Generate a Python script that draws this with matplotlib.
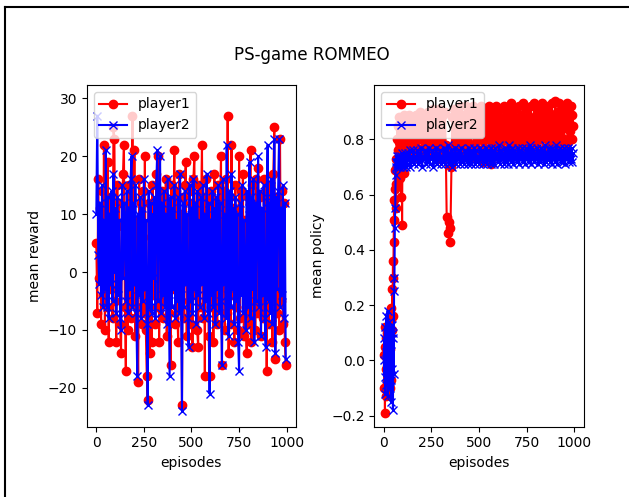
import numpy as np
import matplotlib
matplotlib.use("Agg")
import matplotlib.pyplot as plt
from matplotlib.lines import Line2D

# ---------------- data ----------------
reward_episodes = np.arange(0, 1000, 5)

reward_player1 = [
    5, -7, 16, -1, 11, -9, 14, -4, 22, -10,
    9, -6, 19, -12, 13, -3, 10, -8, 25, 23,
    -5, -12, 15, 2, 12, -9, -14, 8, 17, 22,
    -6, -17, 11, -10, 15, 0, -8, 13, 27, -4,
    21, -11, 9, -6, -19, 16, -2, 12, -9, 14,
    -7, 20, -10, -18, -22, 12, -14, 6, -12, 15,
    -4, 11, -9, 17, -6, 20, -12, 10, -3, 14,
    -8, 13, -5, 16, -11, 9, -7, 12, -16, 15,
    -3, 11, 21, -9, 14, -6, -12, 17, -2, 10,
    -23, 13, -8, 15, 19, -11, 9, -5, 14, -9,
    12, -13, 16, 20, -4, 11, -10, -13, 15, -6,
    10, 22, -8, 13, -18, 16, -3, 12, -11, -18,
    14, -6, 9, -12, 17, -5, 11, -9, 15, -2,
    12, 20, -16, 8, 14, -10, 16, -7, 27, -14,
    13, -9, 22, -4, 11, -12, 15, -6, 10, -10,
    20, -8, 14, -3, 17, -11, 9, -6, -14, 13,
    -9, 12, 21, -12, 15, -5, 11, -10, 16, -7,
    18, -4, 13, -11, 10, -8, 16, -6, 14, -17,
    12, -9, 15, -3, 11, -12, 17, 25, -15, 13,
    -7, 10, -10, 23, -5, 14, -9, 12, -12, -16,
]

reward_player2 = [
    10, 27, 3, -2, 12, -4, 15, -6, 9, -3,
    21, -6, 13, -8, 10, -2, 14, -5, 17, 0,
    11, -7, 13, -4, 9, -8, -10, 15, -1, 12,
    8, -5, 14, -7, 11, -3, 16, 20, -6, 12,
    -2, 15, -7, -18, 10, -4, 13, -8, 11, -5,
    16, -3, 9, -9, -23, 14, -6, 12, -7, 10,
    -1, 13, -8, 15, 21, -5, 11, 20, -7, 12,
    -4, 14, -6, 10, -9, 16, -2, -18, 13, -6,
    11, -3, 15, -8, 9, -5, 13, -7, 17, -4,
    -24, 12, -6, 14, -2, 10, -8, -13, 15, -5,
    11, -7, 16, -3, 12, -9, 14, -4, 9, -6,
    13, -2, 15, -8, 10, -5, 17, -7, 12, -21,
    9, -4, 14, -6, 11, -9, 13, -3, 15, -7,
    12, -5, -16, 16, -2, 10, -8, 22, -4, -11,
    14, -6, 17, -3, 11, -9, 13, -5, 10, -12,
    -17, 12, -4, 15, -7, 9, -2, -10, 14, -6,
    11, 19, -8, 13, -3, 16, -12, 12, -5, 10,
    20, -6, 14, -11, 11, -4, 15, -8, -13, 13,
    22, -5, 12, -7, 16, -9, 10, 23, -14, 13,
    -3, 14, 23, -6, 11, -4, 15, -8, 12, -15,
]

policy_episodes = np.concatenate([np.arange(0, 120, 2), np.arange(120, 1000, 5)])

policy_player1 = [
    # episodes 0..118 (step 2)
    0.02, -0.10, 0.12, -0.19, 0.05, -0.13, 0.08, -0.03, 0.10, -0.08,
    0.01, 0.06, -0.12, 0.13, -0.05, 0.09, -0.10, 0.04, 0.15, -0.07,
    0.19, 0.11, 0.26, 0.16, 0.36, 0.30, 0.43, 0.58, 0.51, 0.62,
    0.69, 0.55, 0.73, 0.64, 0.80, 0.70, 0.85, 0.76, 0.68, 0.88,
    0.79, 0.72, 0.86, 0.66, 0.82, 0.75, 0.59, 0.87, 0.49, 0.78,
    0.84, 0.71, 0.89, 0.77, 0.68, 0.86, 0.80, 0.74, 0.88, 0.79,
    # episodes 120..995 (step 5)
    0.86, 0.76, 0.89, 0.79, 0.84, 0.74, 0.88, 0.81, 0.87, 0.75,
    0.89, 0.77, 0.85, 0.73, 0.90, 0.80, 0.86, 0.75, 0.88, 0.78,
    0.84, 0.74, 0.90, 0.79, 0.87, 0.76, 0.85, 0.81, 0.91, 0.74,
    0.88, 0.78, 0.86, 0.73, 0.91, 0.80, 0.87, 0.75, 0.89, 0.77,
    0.90, 0.78, 0.52, 0.46, 0.50, 0.43, 0.48, 0.70, 0.88, 0.76,
    0.91, 0.79, 0.86, 0.74, 0.90, 0.81, 0.92, 0.76, 0.87, 0.78,
    0.89, 0.75, 0.92, 0.80, 0.86, 0.73, 0.91, 0.78, 0.88, 0.82,
    0.92, 0.74, 0.87, 0.79, 0.90, 0.76, 0.85, 0.81, 0.92, 0.72,
    0.88, 0.77, 0.91, 0.73, 0.86, 0.80, 0.92, 0.75, 0.89, 0.71,
    0.90, 0.78, 0.87, 0.74, 0.92, 0.81, 0.88, 0.76, 0.91, 0.79,
    0.86, 0.74, 0.92, 0.80, 0.89, 0.76, 0.91, 0.82, 0.87, 0.75,
    0.93, 0.78, 0.88, 0.74, 0.91, 0.81, 0.86, 0.77, 0.92, 0.79,
    0.89, 0.75, 0.93, 0.80, 0.87, 0.77, 0.91, 0.83, 0.88, 0.76,
    0.92, 0.79, 0.86, 0.75, 0.93, 0.81, 0.89, 0.77, 0.91, 0.74,
    0.88, 0.80, 0.93, 0.76, 0.90, 0.82, 0.87, 0.75, 0.92, 0.79,
    0.89, 0.77, 0.93, 0.81, 0.88, 0.76, 0.94, 0.80, 0.90, 0.78,
    0.93, 0.82, 0.88, 0.77, 0.92, 0.80, 0.90, 0.84, 0.93, 0.79,
    0.90, 0.83, 0.92, 0.80, 0.89, 0.85,
]

policy_player2 = [
    # episodes 0..118 (step 2)
    0.00, 0.08, -0.06, 0.12, -0.12, 0.03, 0.16, -0.09, 0.05, -0.02,
    0.18, -0.13, 0.09, -0.04, 0.14, -0.10, 0.02, 0.11, -0.07, 0.06,
    -0.15, 0.13, -0.03, 0.08, -0.18, 0.10, -0.05, 0.25, 0.30, 0.48,
    0.55, 0.67, 0.72, 0.70, 0.74, 0.71, 0.73, 0.70, 0.72, 0.74,
    0.71, 0.73, 0.72, 0.70, 0.74, 0.71, 0.73, 0.72, 0.75, 0.71,
    0.73, 0.70, 0.74, 0.72, 0.71, 0.75, 0.72, 0.73, 0.70, 0.74,
    # episodes 120..995 (step 5)
    0.71, 0.75, 0.73, 0.76, 0.70, 0.74, 0.72, 0.76, 0.71, 0.74,
    0.73, 0.76, 0.71, 0.75, 0.72, 0.77, 0.70, 0.74, 0.73, 0.76,
    0.71, 0.75, 0.72, 0.77, 0.71, 0.74, 0.73, 0.76, 0.70, 0.75,
    0.72, 0.77, 0.71, 0.75, 0.73, 0.76, 0.71, 0.74, 0.72, 0.77,
    0.71, 0.76, 0.73, 0.78, 0.71, 0.75, 0.72, 0.76, 0.70, 0.75,
    0.72, 0.77, 0.71, 0.75, 0.73, 0.76, 0.71, 0.77, 0.72, 0.74,
    0.71, 0.76, 0.73, 0.75, 0.71, 0.77, 0.72, 0.76, 0.71, 0.75,
    0.73, 0.77, 0.71, 0.76, 0.72, 0.74, 0.71, 0.77, 0.73, 0.76,
    0.71, 0.75, 0.72, 0.77, 0.71, 0.76, 0.73, 0.75, 0.71, 0.77,
    0.72, 0.76, 0.71, 0.77, 0.73, 0.75, 0.72, 0.78, 0.71, 0.76,
    0.73, 0.75, 0.71, 0.77, 0.72, 0.76, 0.71, 0.78, 0.73, 0.76,
    0.72, 0.77, 0.71, 0.76, 0.73, 0.75, 0.72, 0.77, 0.71, 0.76,
    0.73, 0.77, 0.72, 0.75, 0.71, 0.77, 0.73, 0.76, 0.72, 0.78,
    0.71, 0.77, 0.73, 0.76, 0.72, 0.75, 0.73, 0.77, 0.71, 0.76,
    0.72, 0.77, 0.73, 0.76, 0.71, 0.78, 0.72, 0.75, 0.73, 0.77,
    0.72, 0.76, 0.71, 0.77, 0.73, 0.76, 0.72, 0.78, 0.71, 0.76,
    0.73, 0.77, 0.72, 0.76, 0.72, 0.77, 0.71, 0.76, 0.73, 0.77,
    0.72, 0.76, 0.73, 0.77, 0.72, 0.75,
]

series_labels = ["player1", "player2"]
title_text = "PS-game ROMMEO"

# ---------------- figure ----------------
fig = plt.figure(figsize=(6.29, 4.97), dpi=100)
fig.patch.set_facecolor("white")

ax1 = fig.add_axes([0.138, 0.1414, 0.3326, 0.6876])
ax2 = fig.add_axes([0.595, 0.1414, 0.333, 0.6876])

ax1.plot(reward_episodes, reward_player1, "r-o", label=series_labels[0])
ax1.plot(reward_episodes, reward_player2, "b-x", label=series_labels[1])
ax1.set_xlabel("episodes")
ax1.set_ylabel("mean reward")
ax1.set_ylim(-26.7, 32.3)
ax1.set_xlim(-50, 1049)
ax1.set_xticks([0, 250, 500, 750, 1000])
ax1.set_yticks([-20, -10, 0, 10, 20, 30])
ax1.legend(loc="upper left")

ax2.plot(policy_episodes, policy_player1, "r-o", label=series_labels[0])
ax2.plot(policy_episodes, policy_player2, "b-x", label=series_labels[1])
ax2.set_xlabel("episodes")
ax2.set_ylabel("mean policy")
ax2.set_ylim(-0.24, 0.997)
ax2.set_xlim(-50, 1049)
ax2.set_xticks([0, 250, 500, 750, 1000])
ax2.legend(loc="upper left")

fig.text(0.495, 0.889, title_text, ha="center", va="center", fontsize=12)

# screenshot frame: top and left edges
fig.add_artist(Line2D([4.5 / 629, 1.0], [1 - 6.5 / 497, 1 - 6.5 / 497],
                      transform=fig.transFigure, color="black", linewidth=1.5))
fig.add_artist(Line2D([4.5 / 629, 4.5 / 629], [0.0, 1 - 6.5 / 497],
                      transform=fig.transFigure, color="black", linewidth=1.5))

fig.savefig("out.png", dpi=100)
